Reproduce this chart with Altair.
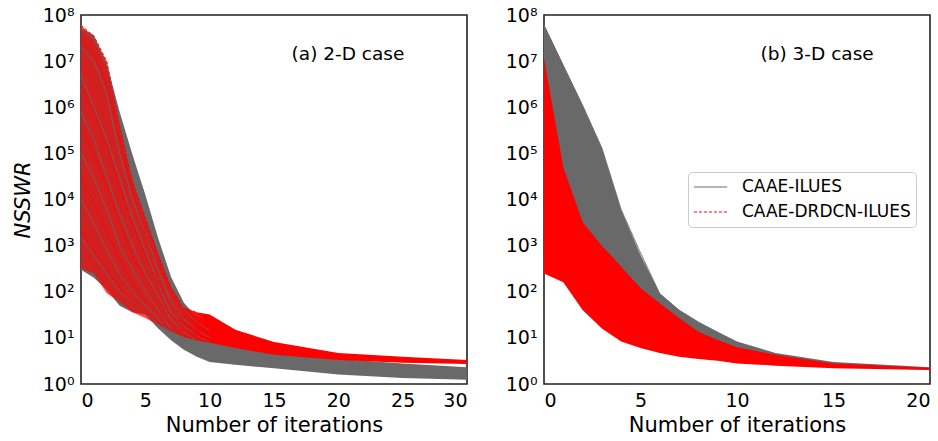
import altair as alt
import pandas as pd

FONT = "DejaVu Sans"
GRAY = "#696969"
RED = "#ff0000"
M1 = "CAAE-ILUES"
M2 = "CAAE-DRDCN-ILUES"

# ---------------- panel (a) 2-D case : envelopes ----------------
A_ITER = [0, 1, 2, 3, 4, 5, 6, 7, 8, 9, 10, 12, 15, 20, 25, 30]
A_GRAY_HI = [5.2e7, 3.7e7, 8.9e6, 8.0e5, 9.3e4, 1.26e4, 1.45e3, 210, 58, 28, 16, 10, 5.6, 3.5, 2.8, 2.3]
A_GRAY_LO = [300, 200, 110, 50, 36, 32, 16, 8.9, 5.5, 3.9, 3.0, 2.6, 2.2, 1.6, 1.35, 1.23]
A_RED_HI = [6.0e7, 3.2e7, 1.0e7, 4.0e5, 2.5e4, 4.0e3, 680, 126, 45, 36, 32, 15, 8.1, 4.7, 3.9, 3.3]
A_RED_LO = [320, 250, 93, 60, 36, 27, 19, 13.5, 10.5, 8.9, 7.8, 6.0, 4.3, 3.3, 2.9, 2.7]

# ---------------- panel (b) 3-D case : envelopes ----------------
B_ITER = [0, 1, 2, 3, 4, 5, 6, 7, 8, 9, 10, 12, 15, 20]
B_GRAY_HI = [6.2e7, 8.3e6, 1.1e6, 1.3e5, 5.9e3, 630, 93, 40, 22, 13.5, 8.3, 4.7, 3.0, 2.3]
B_GRAY_LO = [400, 200, 100, 50, 25, 16, 10, 8, 6.3, 5.2, 4.5, 3.5, 2.5, 2.0]
B_RED_HI = [1.1e7, 5.0e4, 3.2e3, 1.0e3, 350, 120, 56, 27, 13.5, 9, 6.3, 4.3, 2.8, 2.25]
B_RED_LO = [250, 160, 40, 16, 8.3, 6.0, 4.7, 3.9, 3.5, 3.2, 2.8, 2.5, 2.2, 2.0]

# ---------------- a few individual runs (iterations 0..10) ----------------
RUN_ITER = [0, 1, 2, 3, 4, 5, 6, 7, 8, 9, 10]
A_GRAY_RUNS = [
    [5e7, 3e7, 8e6, 6e5, 8e4, 6e3, 800, 150, 40, 22, 14],
    [2e7, 1e7, 2e6, 1e5, 1e4, 2e3, 300, 60, 25, 15, 10],
    [5e6, 1e6, 2e5, 3e4, 4e3, 800, 150, 35, 18, 11, 8],
    [8e5, 2e5, 3e4, 5e3, 1e3, 250, 80, 25, 13, 9, 6],
    [1e5, 3e4, 6e3, 1e3, 300, 100, 40, 15, 9, 6.5, 5],
    [1e4, 3e3, 800, 250, 100, 50, 25, 12, 7, 5, 4],
    [1.5e3, 600, 250, 100, 60, 35, 20, 10, 6, 4.5, 3.6],
]
A_RED_RUNS = [
    [6e7, 3.5e7, 1e7, 4e5, 2.5e4, 4e3, 600, 120, 45, 35, 25],
    [3e7, 1.5e7, 3e6, 2e5, 1.5e4, 2e3, 400, 100, 40, 28, 20],
    [3e6, 8e5, 1.5e5, 2e4, 3e3, 600, 150, 50, 28, 22, 16],
    [4e5, 1e5, 2e4, 3e3, 600, 200, 70, 30, 20, 15, 12],
    [3e4, 8e3, 2e3, 500, 150, 60, 35, 20, 14, 11, 9],
    [2e3, 800, 300, 120, 60, 35, 22, 15, 11, 9, 8],
]
B_GRAY_RUNS = [
    [6e7, 8e6, 1.1e6, 1.3e5, 6e3, 700, 90, 40, 22, 13, 8],
    [2e7, 3e6, 3e5, 3e4, 2e3, 250, 50, 25, 15, 10, 7],
    [5e6, 6e5, 6e4, 5e3, 500, 90, 25, 15, 10, 7, 5.5],
]
B_RED_RUNS = [
    [1e7, 4e4, 3e3, 800, 250, 80, 40, 20, 12, 8, 6],
    [1e5, 8e3, 800, 200, 60, 25, 14, 9, 7, 5.5, 4.5],
    [1e3, 300, 100, 40, 15, 9, 7, 5, 4.5, 4, 3.5],
]

PANEL_LABELS = ["(a) 2-D case", "(b) 3-D case"]
LABEL_POS_ITER = [20.75, 14.15]
LABEL_POS_VALUE = [1.45e7, 1.45e7]

SUP = "['⁰','¹','²','³','⁴','⁵','⁶','⁷','⁸']"


def band_df(iters, lo, hi):
    return pd.DataFrame({"iter": iters, "lo": lo, "hi": hi})


def runs_df(runs, method, tag):
    rows = []
    for k, vals in enumerate(runs):
        for it, v in zip(RUN_ITER, vals):
            rows.append({"iter": it, "value": v, "method": method, "run": f"{tag}-{method}-{k}"})
    return pd.DataFrame(rows)


color_scale = alt.Scale(domain=[M1, M2], range=[GRAY, RED])
dash_scale = alt.Scale(domain=[M1, M2], range=[[1, 0], [3, 2]])

legend_def = alt.Legend(
    title=None,
    symbolDash=alt.ExprRef(expr="datum.value === '" + M2 + "' ? [3, 2] : [1, 0]"),
)

# mixed red/grey appearance for the dense early iterations of panel (a)
RED_MIX = alt.Gradient(
    gradient="linear", x1=0, x2=1, y1=0, y2=0,
    stops=[
        alt.GradientStop(color="rgba(255,0,0,0.7)", offset=0),
        alt.GradientStop(color="rgba(255,0,0,0.7)", offset=0.25),
        alt.GradientStop(color="rgba(255,0,0,1)", offset=0.32),
        alt.GradientStop(color="rgba(255,0,0,1)", offset=1),
    ],
)


def panel(xmax, xticks, gray_band, red_band, gray_runs, red_runs, label, lx, ly,
          show_ytitle, red_fill, gray_runs_below_red):
    xs = alt.Scale(domain=[0, xmax], nice=False, zero=False)
    ys = alt.Scale(type="log", domain=[1, 1e8], nice=False)
    xaxis = alt.Axis(values=xticks, title="Number of iterations", grid=False, ticks=False,
                     tickSize=0, domain=False, labelPadding=7, titlePadding=4)
    yaxis = alt.Axis(values=[10 ** k for k in range(9)], grid=False, ticks=False, tickSize=0,
                     domain=False, labelPadding=7, titlePadding=9,
                     labelExpr="'10' + " + SUP + "[round(log(datum.value)/LN10)]",
                     title="NSSWR" if show_ytitle else None)

    gray = alt.Chart(gray_band).mark_area(color=GRAY, opacity=1).encode(
        x=alt.X("iter:Q", scale=xs, axis=xaxis),
        y=alt.Y("hi:Q", scale=ys, axis=yaxis),
        y2="lo:Q",
    )
    red = alt.Chart(red_band).mark_area(color=red_fill, opacity=1).encode(
        x="iter:Q", y="hi:Q", y2="lo:Q")

    def run_layer(df):
        return alt.Chart(df).mark_line(strokeWidth=1).encode(
            x="iter:Q",
            y="value:Q",
            color=alt.Color("method:N", scale=color_scale, legend=legend_def),
            strokeDash=alt.StrokeDash("method:N", scale=dash_scale, legend=None),
            detail="run:N",
            order="iter:Q",
        )

    if gray_runs_below_red:
        layers = [gray, run_layer(gray_runs), red, run_layer(red_runs)]
    else:
        layers = [gray, red, run_layer(gray_runs), run_layer(red_runs)]

    txt = alt.Chart(pd.DataFrame({"iter": [lx], "value": [ly], "label": [label]})).mark_text(
        font=FONT, fontSize=18.5, color="black", align="center", baseline="middle"
    ).encode(x="iter:Q", y="value:Q", text="label:N")
    layers.append(txt)

    return alt.layer(*layers).properties(width=386, height=369)


left = panel(30, [0, 5, 10, 15, 20, 25, 30], band_df(A_ITER, A_GRAY_LO, A_GRAY_HI),
             band_df(A_ITER, A_RED_LO, A_RED_HI),
             runs_df(A_GRAY_RUNS, M1, "a"), runs_df(A_RED_RUNS, M2, "a"),
             PANEL_LABELS[0], LABEL_POS_ITER[0], LABEL_POS_VALUE[0], True, RED_MIX, False)
right = panel(20, [0, 5, 10, 15, 20], band_df(B_ITER, B_GRAY_LO, B_GRAY_HI),
              band_df(B_ITER, B_RED_LO, B_RED_HI),
              runs_df(B_GRAY_RUNS, M1, "b"), runs_df(B_RED_RUNS, M2, "b"),
              PANEL_LABELS[1], LABEL_POS_ITER[1], LABEL_POS_VALUE[1], False, RED, True)

chart = alt.hconcat(left, right, spacing=77, bounds="flush").properties(
    padding={"left": 11, "top": 5, "right": 0, "bottom": 0}
).configure_view(
    stroke="#222222", strokeWidth=1.6
).configure_axis(
    labelFont=FONT, labelFontSize=19, labelColor="black",
    titleFont=FONT, titleFontSize=21, titleFontWeight="normal", titleColor="black",
).configure_axisY(
    titleFontStyle="italic"
).configure_legend(
    orient="none", legendX=607, legendY=157,
    symbolType="stroke", symbolSize=1100, symbolStrokeWidth=1,
    labelFont=FONT, labelFontSize=17, labelColor="black", labelOffset=14, labelLimit=400,
    clipHeight=20, padding=5, rowPadding=5,
    strokeColor="#cccccc", fillColor="white", cornerRadius=4,
).configure_text(font=FONT)

chart.save("out.html", embed_options={"renderer": "svg", "actions": False})
